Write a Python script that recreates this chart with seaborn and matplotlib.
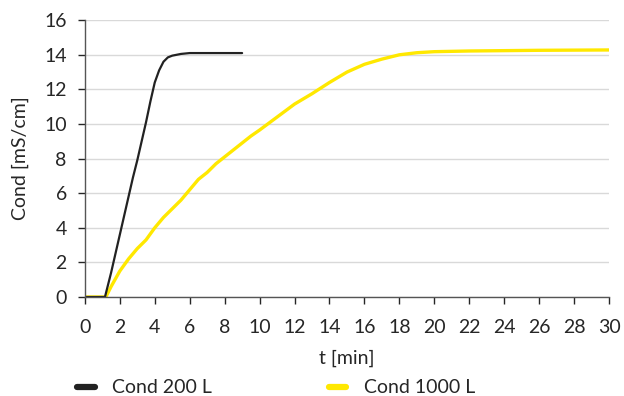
import matplotlib
matplotlib.use("Agg")
import matplotlib.pyplot as plt
from matplotlib.lines import Line2D
import seaborn as sns
import pandas as pd

# Conductivity during filling, 200 L vessel
t_200 = [0.0, 0.5, 1.0, 1.15, 1.3, 1.5, 1.75, 2.0, 2.25, 2.5, 2.75, 3.0, 3.25,
         3.5, 3.75, 4.0, 4.25, 4.5, 4.75, 5.0, 5.5, 6.0, 6.5, 7.0, 7.5, 8.0,
         8.5, 9.0]
cond_200 = [0.0, 0.0, 0.0, 0.0, 0.6, 1.4, 2.5, 3.6, 4.7, 5.8, 6.9, 7.9, 9.0,
            10.1, 11.3, 12.4, 13.1, 13.6, 13.85, 13.95, 14.05, 14.1, 14.1,
            14.1, 14.1, 14.1, 14.1, 14.1]

# Conductivity during filling, 1000 L vessel
t_1000 = [0.0, 1.0, 1.2, 1.5, 2.0, 2.5, 3.0, 3.5, 4.0, 4.5, 5.0, 5.5, 6.0,
          6.5, 7.0, 7.5, 8.0, 8.5, 9.0, 9.5, 10.0, 11.0, 12.0, 13.0, 14.0,
          15.0, 16.0, 17.0, 18.0, 19.0, 20.0, 21.0, 22.0, 24.0, 26.0, 28.0,
          30.0]
cond_1000 = [0.0, 0.0, 0.0, 0.6, 1.5, 2.2, 2.8, 3.3, 4.0, 4.6, 5.1, 5.6, 6.2,
             6.8, 7.2, 7.7, 8.1, 8.5, 8.9, 9.3, 9.65, 10.4, 11.15, 11.75,
             12.4, 13.0, 13.45, 13.75, 14.0, 14.12, 14.18, 14.2, 14.22, 14.24,
             14.26, 14.27, 14.28]

series_names = ["Cond 200 L", "Cond 1000 L"]
x_ticks = list(range(0, 31, 2))
y_ticks = list(range(0, 17, 2))

black = "#222222"
yellow = "#FFE800"
text_col = "#262626"

df = pd.concat([
    pd.DataFrame({"t": t_200, "cond": cond_200, "series": series_names[0]}),
    pd.DataFrame({"t": t_1000, "cond": cond_1000, "series": series_names[1]}),
])

sns.set_theme(style="white")
plt.rcParams["font.family"] = ["Lato", "DejaVu Sans"]

fig = plt.figure(figsize=(6.24, 3.96), dpi=100)
ax = fig.add_axes([0.136, 0.25, 0.840, 0.699])

# yellow first so the black curve sits on top
sns.lineplot(data=df[df["series"] == series_names[1]], x="t", y="cond",
             color=yellow, linewidth=2.4, ax=ax, sort=False, estimator=None)
sns.lineplot(data=df[df["series"] == series_names[0]], x="t", y="cond",
             color=black, linewidth=1.6, ax=ax, sort=False, estimator=None)

ax.set_xlim(0, 30)
ax.set_ylim(0, 16)
ax.set_xticks(x_ticks)
ax.set_yticks(y_ticks)
ax.yaxis.grid(True, color="#d9d9d9", linewidth=1.0)
ax.set_axisbelow(True)
sns.despine(ax=ax)
for side in ("left", "bottom"):
    ax.spines[side].set_color("#555555")
    ax.spines[side].set_linewidth(1.0)
ax.tick_params(axis="both", labelsize=14, colors=text_col, length=5,
               width=1.0, direction="out")
ax.tick_params(axis="x", bottom=True, pad=11)
ax.tick_params(axis="y", left=True, pad=8)
ax.set_xlabel("t [min]", fontsize=14, color=text_col, labelpad=10)
ax.set_ylabel("Cond [mS/cm]", fontsize=14, color=text_col, labelpad=11)

handles = [Line2D([], [], color=black, linewidth=4.5),
           Line2D([], [], color=yellow, linewidth=4.5)]
fig.legend(handles, series_names, loc="lower left", ncol=2,
           bbox_to_anchor=(0.096, -0.045), frameon=False, fontsize=14,
           handlelength=0.9, handletextpad=0.9, columnspacing=6.0,
           labelcolor=text_col)

fig.savefig("out.png", dpi=100)
